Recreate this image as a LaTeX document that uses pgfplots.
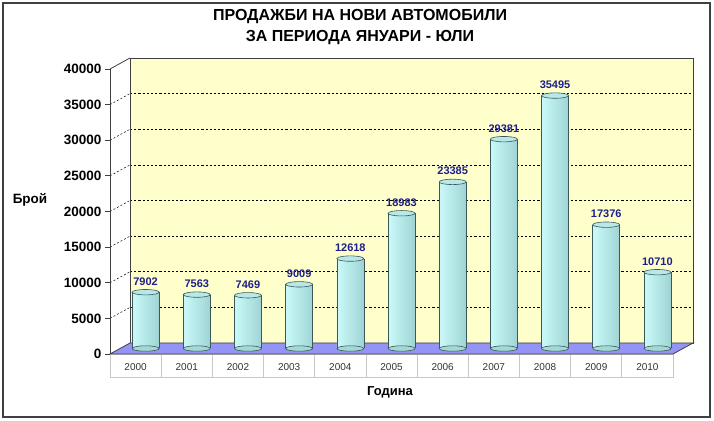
\documentclass[border=0pt]{standalone}
\usepackage{pgfplots}
\usepackage{pgfplotstable}
\pgfplotsset{compat=1.18}
\usepackage{fontspec}
\setmainfont{Liberation Sans}
\definecolor{wall}{HTML}{FFFFCC}
\definecolor{floorc}{HTML}{9494F6}
\definecolor{framec}{HTML}{404040}
\definecolor{cylA}{HTML}{D4FFFF}
\definecolor{cylB}{HTML}{C6F6F6}
\definecolor{cylC}{HTML}{A4D8D8}
\definecolor{cylD}{HTML}{7CB0B0}
\definecolor{cyltop}{HTML}{B8E8E8}
\definecolor{cyledge}{HTML}{3C5858}
\definecolor{lab}{HTML}{1E1E8C}
\definecolor{cellc}{HTML}{C8C8C8}
\pgfdeclarehorizontalshading{cyl}{100bp}{color(0bp)=(cylA); color(30bp)=(cylB); color(70bp)=(cylC); color(100bp)=(cylD)}
\newcommand\fs[1]{\fontsize{#1}{#1}\selectfont}
\pgfplotsset{/pgf/number format/assume math mode=true, /pgf/number format/1000 sep={},
  cylbar/.style={ybar, bar width=27pt, bar shift=0pt, draw=none, shade, shading=cyl}}

\pgfplotstableread{
x y base
0 7902 0
1 7563 0
2 7469 0
3 9009 0
4 12618 0
5 18983 0
6 23385 0
7 29381 0
8 35495 0
9 17376 0
10 10710 0
}\sales

\begin{document}
\begin{tikzpicture}[x=1pt,y=1pt]
\path (0,0) rectangle (714,420);
\draw[framec, line width=1.2pt] (3,3) rectangle (710,417);
\node[align=center, font=\fontsize{16}{21}\selectfont\bfseries] at (360,392.5) {ПРОДАЖБИ НА НОВИ АВТОМОБИЛИ\\ЗА ПЕРИОДА ЯНУАРИ - ЮЛИ};

% back wall with grid
\begin{axis}[at={(130pt,77pt)}, anchor=south west, scale only axis,
  width=563pt, height=285pt, xmin=-0.5, xmax=10.5, ymin=0, ymax=40000,
  xtick=\empty, ytick={0,5000,...,40000}, yticklabels={}, scaled y ticks=false,
  ymajorgrids,
  grid style={black, dash pattern=on 2.2pt off 2pt, line width=0.5pt},
  major tick length=0pt, axis background/.style={fill=wall},
  axis line style={framec, line width=0.8pt}]
\addplot[draw=none] coordinates {(0,0)};
\end{axis}

% table below
\draw[cellc, line width=0.8pt] (110,43) rectangle (673,66);
\foreach \k in {1,...,10} \draw[cellc, line width=0.8pt] (110+\k*51.18,43) -- (110+\k*51.18,66);

% floor and left wall
\filldraw[fill=floorc, draw=framec, line width=0.8pt] (110,66) -- (130,77) -- (693,77) -- (673,66) -- cycle;
\foreach \k in {1,...,7} \draw[black, dash pattern=on 2pt off 2pt, line width=0.5pt] (110,66+\k*35.625) -- (130,77+\k*35.625);
\draw[framec, line width=0.8pt] (110,351) -- (130,362);

\node[font=\fs{13.5}\bfseries] at (30,220) {Брой};
\node[font=\fs{13}\bfseries] at (390,28) {Година};

% front axis
\begin{axis}[at={(110pt,66pt)}, anchor=south west, scale only axis,
  width=563pt, height=285pt, xmin=-0.5, xmax=10.5, ymin=0, ymax=40000,
  axis y line*=left, axis x line*=bottom, x axis line style={draw=none},
  y axis line style={framec, line width=0.8pt, -},
  xtick={0,1,2,3,4,5,6,7,8,9,10},
  xticklabels={2000,2001,2002,2003,2004,2005,2006,2007,2008,2009,2010},
  x tick style={draw=none},
  ytick={0,5000,...,40000}, scaled y ticks=false,
  tick align=outside, major tick length=5pt,
  y tick style={framec, line width=0.8pt},
  yticklabel style={font=\fs{13.5}\bfseries},
  xticklabel style={font=\fs{10}, text=black!80, anchor=center, yshift=-8pt}]
\addplot[draw=none] coordinates {(0,0)};
\end{axis}

% bars (middle plane)
\begin{axis}[at={(120pt,71.5pt)}, anchor=south west, scale only axis,
  width=563pt, height=285pt, xmin=-0.5, xmax=10.5, ymin=0, ymax=40000,
  hide axis, clip=false]
\addplot[only marks, mark=*, mark size=13.5pt,
  mark options={yscale=0.2, fill=cylC, draw=cyledge, line width=0.6pt}]
  table[x=x, y=base] {\sales};
\addplot[cylbar, restrict x to domain=-0.2:0.2] table[x=x, y=y] {\sales};
\addplot[cylbar, restrict x to domain=0.8:1.2] table[x=x, y=y] {\sales};
\addplot[cylbar, restrict x to domain=1.8:2.2] table[x=x, y=y] {\sales};
\addplot[cylbar, restrict x to domain=2.8:3.2] table[x=x, y=y] {\sales};
\addplot[cylbar, restrict x to domain=3.8:4.2] table[x=x, y=y] {\sales};
\addplot[cylbar, restrict x to domain=4.8:5.2] table[x=x, y=y] {\sales};
\addplot[cylbar, restrict x to domain=5.8:6.2] table[x=x, y=y] {\sales};
\addplot[cylbar, restrict x to domain=6.8:7.2] table[x=x, y=y] {\sales};
\addplot[cylbar, restrict x to domain=7.8:8.2] table[x=x, y=y] {\sales};
\addplot[cylbar, restrict x to domain=8.8:9.2] table[x=x, y=y] {\sales};
\addplot[cylbar, restrict x to domain=9.8:10.2] table[x=x, y=y] {\sales};
\addplot[ycomb, draw=cyledge, line width=0.6pt, xshift=-13.5pt, mark=none] table[x=x, y=y] {\sales};
\addplot[ycomb, draw=cyledge, line width=0.6pt, xshift=13.5pt, mark=none] table[x=x, y=y] {\sales};
\addplot[only marks, mark=*, mark size=13.5pt,
  mark options={yscale=0.2, fill=cyltop, draw=cyledge, line width=0.6pt},
  nodes near coords,
  nodes near coords style={font=\fs{11}\bfseries, text=lab, anchor=south, inner sep=0pt, yshift=6.5pt}]
  table[x=x, y=y] {\sales};
\end{axis}
\end{tikzpicture}
\end{document}
